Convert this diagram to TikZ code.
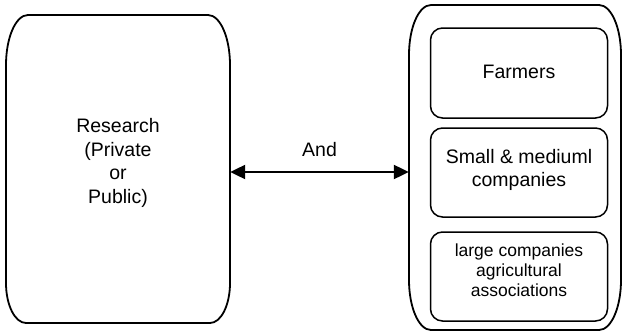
\documentclass[tikz,border=0pt]{standalone}
\usepackage{fontspec}
\setmainfont{Liberation Sans}
\usetikzlibrary{arrows.meta}
\begin{document}
\begin{tikzpicture}[x=1pt,y=1pt,
  outl/.style={draw, line width=1.8pt},
  boxline/.style={draw, line width=1.5pt, rounded corners=12pt, minimum width=177pt, minimum height=88pt, inner sep=0pt},
  big/.style={font=\fontsize{19.5}{23.5}\selectfont, align=center, inner sep=0pt},
  small/.style={font=\fontsize{17.5}{20}\selectfont, align=center, inner sep=0pt},
  conn/.style={line width=2.2pt, {Triangle[length=15pt,width=14pt]}-{Triangle[length=15pt,width=14pt]}}]
\useasboundingbox (0,0) rectangle (623,333);
% left box
\node[minimum width=224pt, minimum height=308pt, inner sep=0pt] (res) at (118,161) {};
\draw[outl] (28,318) -- (208,318) arc[start angle=90, end angle=0, x radius=22pt, y radius=50pt]
  -- (230,50) arc[start angle=0, end angle=-90, x radius=20pt, y radius=40pt]
  -- (26,10) arc[start angle=270, end angle=180, x radius=20pt, y radius=40pt]
  -- (6,268) arc[start angle=180, end angle=90, x radius=22pt, y radius=50pt] -- cycle;
\node[big] (restxt) at (118,170) {Research\\(Private\\or\\Public)};
% right container
\node[minimum width=212pt, minimum height=325pt, inner sep=0pt] (cont) at (515,161) {};
\draw[outl] (431,328) -- (599,328) arc[start angle=90, end angle=0, x radius=22pt, y radius=50pt]
  -- (621,53) arc[start angle=0, end angle=-90, x radius=22pt, y radius=50pt]
  -- (431,3) arc[start angle=270, end angle=180, x radius=22pt, y radius=50pt]
  -- (409,278) arc[start angle=180, end angle=90, x radius=22pt, y radius=50pt] -- cycle;
% inner boxes
\node[boxline, minimum height=90pt] (farm) at (519,260) {};
\node[big] (farmtxt) at (519,261) {Farmers};
\node[boxline, minimum height=89pt] (sme) at (519,160.5) {};
\node[big] (smetxt) at (519,163) {Small \& mediuml\\companies};
\node[boxline, minimum height=89pt] (large) at (519,56.5) {};
\node[small] (largetxt) at (519,63) {large companies\\agricultural\\associations};
% connector
\draw[conn] (res.east) -- node[above=14pt, big] (and) {And} (cont.west);
\end{tikzpicture}
\end{document}
